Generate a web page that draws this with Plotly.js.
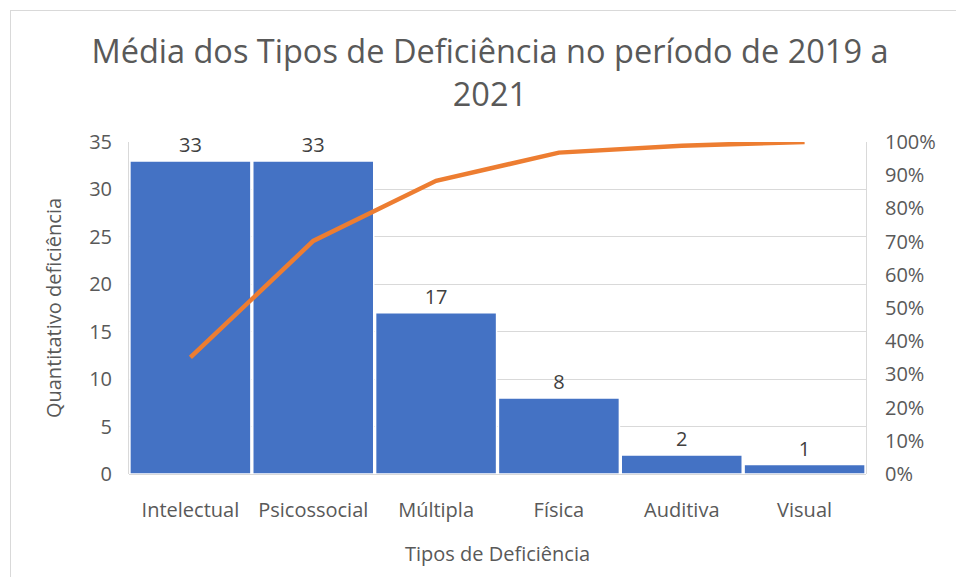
<!DOCTYPE html>
<html>
<head>
<meta charset="utf-8">
<script src="https://cdn.plot.ly/plotly-3.0.1.min.js"></script>
<style>
	body { margin: 0; background: white; }
	#chart { width: 956px; height: 577px; }
	#frame {
		position: absolute; left: 10px; top: 10px;
		width: 960px; height: 580px;
		border: 1px solid #d9d9d9; pointer-events: none;
	}
</style>
</head>
<body>
<div id="chart"></div>
<div id="frame"></div>
<script>
	var tipos = ['Intelectual', 'Psicossocial', 'Múltipla', 'Física', 'Auditiva', 'Visual'];
	var quantidade = [33, 33, 17, 8, 2, 1];
	var acumulado = [0.351, 0.702, 0.883, 0.968, 0.989, 1.0];

	var fonte = '"Segoe UI", "Open Sans", sans-serif';
	var cinza = '#595959';

	var barras = {
		x: tipos,
		y: quantidade,
		type: 'bar',
		marker: { color: '#4472c4', line: { color: 'white', width: 1.5 } },
		text: quantidade.map(String),
		textposition: 'outside',
		cliponaxis: false,
		textfont: { family: fonte, size: 20, color: '#404040' },
		hoverinfo: 'skip'
	};

	var pareto = {
		x: tipos,
		y: acumulado,
		yaxis: 'y2',
		type: 'scatter',
		mode: 'lines',
		line: { color: '#ed7d31', width: 4.5 },
		hoverinfo: 'skip'
	};

	var layout = {
		width: 956,
		height: 577,
		margin: { l: 129, r: 90, t: 142, b: 103 },
		paper_bgcolor: 'white',
		plot_bgcolor: 'white',
		showlegend: false,
		bargap: 0.015,
		font: { family: fonte, color: cinza, size: 20 },
		title: {
			text: 'Média dos Tipos de Deficiência no período de 2019 a<br>2021',
			font: { family: fonte, size: 32.5, color: cinza },
			x: 0.5125, xanchor: 'center',
			y: 0.89, yanchor: 'middle'
		},
		xaxis: {
			showgrid: false,
			showline: false,
			ticks: '',
			ticklabelstandoff: 22,
			tickfont: { size: 20, color: cinza },
			title: { text: 'Tipos de Deficiência', font: { size: 20, color: cinza }, standoff: 24 }
		},
		yaxis: {
			range: [0, 35],
			dtick: 5,
			showgrid: true,
			gridcolor: '#d9d9d9',
			gridwidth: 1,
			zeroline: true,
			zerolinecolor: '#d9d9d9',
			showline: true,
			linecolor: '#d9d9d9',
			ticks: '',
			ticklabelstandoff: 12,
			tickfont: { size: 20, color: cinza },
			title: { text: 'Quantitativo deficiência', font: { size: 20, color: cinza }, standoff: 22 }
		},
		yaxis2: {
			overlaying: 'y',
			side: 'right',
			range: [0, 1],
			dtick: 0.1,
			tickformat: '.0%',
			showgrid: false,
			zeroline: false,
			showline: true,
			linecolor: '#d9d9d9',
			ticks: '',
			ticklabelstandoff: 14,
			tickfont: { size: 20, color: cinza }
		}
	};

	Plotly.newPlot('chart', [barras, pareto], layout, { displayModeBar: false, staticPlot: true });
</script>
</body>
</html>
